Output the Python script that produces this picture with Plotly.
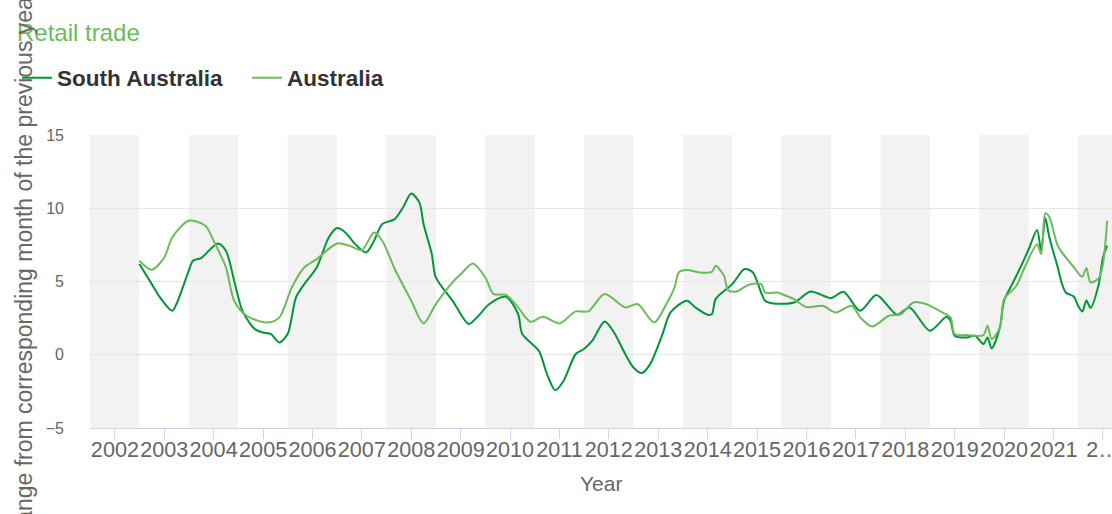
import plotly.graph_objects as go

# ---------------- data ----------------
sa_dates = ["2002-07", "2002-10", "2002-12", "2003-03", "2003-04", "2003-07", "2003-08", "2003-10",
            "2004-02", "2004-04", "2004-06", "2004-08", "2004-11", "2005-01", "2005-03", "2005-05",
            "2005-07", "2005-09", "2005-11", "2006-02", "2006-05", "2006-07", "2006-09", "2006-11",
            "2007-02", "2007-04", "2007-06", "2007-09", "2007-11", "2008-01", "2008-03", "2008-04",
            "2008-06", "2008-07", "2008-11", "2009-03", "2009-05", "2009-08", "2009-12", "2010-03",
            "2010-04", "2010-08", "2010-10", "2010-12", "2011-02", "2011-05", "2011-07", "2011-09",
            "2011-12", "2012-02", "2012-05", "2012-07", "2012-09", "2012-11", "2013-02", "2013-04",
            "2013-08", "2013-10", "2014-01", "2014-02", "2014-03", "2014-07", "2014-10", "2014-12",
            "2015-03", "2015-05", "2015-10", "2016-02", "2016-07", "2016-10", "2017-02", "2017-06",
            "2017-11", "2018-02", "2018-07", "2018-11", "2018-12", "2019-01", "2019-04", "2019-06",
            "2019-08", "2019-09", "2019-10", "2019-12", "2020-01", "2020-03", "2020-05", "2020-07",
            "2020-09", "2020-10", "2020-11", "2020-12", "2021-02", "2021-03", "2021-04", "2021-06",
            "2021-07", "2021-08", "2021-09", "2021-10", "2021-12", "2022-01", "2022-02"]
sa_values = [6.19, 4.82, 3.91, 3.0, 3.46, 5.73, 6.42, 6.6,
             7.6, 7.1, 5.05, 3.0, 1.75, 1.52, 1.41, 0.84,
             1.41, 3.91, 4.82, 5.96, 8.0, 8.65, 8.35, 7.67,
             6.98, 7.78, 8.92, 9.26, 10.05, 11.0, 10.4, 8.92,
             6.87, 5.28, 3.69, 2.1, 2.55, 3.46, 3.96, 2.78,
             1.41, 0.27, -1.32, -2.42, -1.77, 0.05, 0.39, 0.96,
             2.27, 1.64, 0.05, -0.87, -1.25, -0.64, 1.41, 2.89,
             3.69, 3.23, 2.73, 2.78, 3.8, 4.82, 5.85, 5.62,
             3.69, 3.5, 3.57, 4.32, 3.87, 4.3, 3.0, 4.07,
             2.73, 3.23, 1.64, 2.59, 2.32, 1.3, 1.18, 1.3,
             0.73, 1.18, 0.43, 1.86, 3.69, 4.82, 5.96, 7.2,
             8.51, 7.1, 9.33, 8.0, 5.96, 4.94, 4.25, 3.96,
             3.34, 2.95, 3.7, 3.2, 4.82, 6.64, 7.44]

au_dates = ["2002-07", "2002-10", "2003-01", "2003-03", "2003-07", "2003-11", "2004-01", "2004-04",
            "2004-06", "2004-09", "2005-02", "2005-05", "2005-08", "2005-11", "2006-02", "2006-07",
            "2006-10", "2007-01", "2007-04", "2007-06", "2007-09", "2008-01", "2008-04", "2008-07",
            "2008-11", "2009-01", "2009-04", "2009-07", "2009-09", "2009-12", "2010-03", "2010-06",
            "2010-09", "2011-01", "2011-05", "2011-08", "2011-12", "2012-05", "2012-08", "2012-12",
            "2013-03", "2013-05", "2013-06", "2013-08", "2013-11", "2014-02", "2014-03", "2014-05",
            "2014-06", "2014-08", "2014-11", "2015-02", "2015-03", "2015-06", "2015-08", "2015-10",
            "2016-01", "2016-05", "2016-08", "2016-12", "2017-02", "2017-05", "2017-09", "2017-12",
            "2018-03", "2018-06", "2018-10", "2018-12", "2019-01", "2019-04", "2019-08", "2019-09",
            "2019-10", "2019-12", "2020-01", "2020-04", "2020-06", "2020-09", "2020-10", "2020-11",
            "2020-12", "2021-02", "2021-04", "2021-06", "2021-08", "2021-09", "2021-10", "2021-12",
            "2022-01", "2022-02"]
au_values = [6.42, 5.8, 6.64, 8.0, 9.15, 8.81, 7.78, 5.96,
             3.69, 2.66, 2.2, 2.55, 4.6, 5.96, 6.53, 7.6,
             7.44, 7.15, 8.35, 7.78, 5.85, 3.69, 2.14, 3.46,
             4.94, 5.5, 6.23, 5.28, 4.14, 4.09, 3.23, 2.25,
             2.59, 2.14, 2.96, 2.96, 4.14, 3.23, 3.46, 2.2,
             3.46, 4.6, 5.62, 5.78, 5.62, 5.65, 6.08, 5.39,
             4.41, 4.32, 4.78, 4.82, 4.25, 4.25, 4.03, 3.8,
             3.25, 3.34, 2.89, 3.34, 2.55, 1.93, 2.66, 2.78,
             3.57, 3.46, 2.89, 2.55, 1.41, 1.34, 1.34, 1.98,
             1.07, 1.86, 3.8, 4.71, 5.96, 7.55, 6.87, 9.65,
             9.4, 7.44, 6.64, 5.96, 5.32, 5.92, 4.94, 5.23,
             6.19, 9.15]

tick_years = list(range(2002, 2023))
tick_labels = [str(y) for y in range(2002, 2022)] + ["2\u2026"]
y_ticks = [-5, 0, 5, 10, 15]

# ---------------- style ----------------
DARK = "#009639"
LIGHT = "#6cbb5a"
FONT = "Liberation Sans, Arial, sans-serif"

fig = go.Figure()
fig.add_trace(go.Scatter(x=sa_dates, y=sa_values, name="South Australia", mode="lines",
                         line=dict(color=DARK, width=2, shape="spline", smoothing=0.8)))
fig.add_trace(go.Scatter(x=au_dates, y=au_values, name="Australia", mode="lines",
                         line=dict(color=LIGHT, width=2, shape="spline", smoothing=0.8)))

# alternating year bands
shapes = []
for y in tick_years:
    if y % 2 == 0:
        shapes.append(dict(type="rect", xref="x", yref="paper", layer="below",
                           x0=f"{y-1}-07-01", x1=f"{y}-07-01", y0=0, y1=1,
                           fillcolor="#f2f2f2", line=dict(width=0)))

fig.update_layout(
    width=1112, height=514,
    margin=dict(l=90, r=0, t=135, b=86),
    paper_bgcolor="white", plot_bgcolor="white",
    font=dict(family=FONT, color="#666666"),
    shapes=shapes,
    title=dict(text="Retail trade", x=17/1112, xanchor="left", xref="container",
               y=1-33/514, yanchor="middle", yref="container",
               font=dict(size=24, color=LIGHT, family=FONT)),
    legend=dict(orientation="h", xref="container", yref="container",
                x=17/1112, xanchor="left", y=1-78/514, yanchor="middle",
                font=dict(size=22.5, color="#333333", family=FONT, weight="bold"),
                entrywidth=185, bgcolor="rgba(0,0,0,0)"),
    xaxis=dict(type="date", range=["2001-07-01", "2022-03-09"], automargin=False,
               tickvals=[f"{y}-01-01" for y in tick_years], ticktext=tick_labels,
               tickangle=0, ticks="outside", ticklen=10, tickcolor="#ccd6eb",
               tickfont=dict(size=21.6, color="#666666"), ticklabeloverflow="allow",
               ticklabelstandoff=-8,
               showline=True, linecolor="#ccd6eb", linewidth=1,
               showgrid=False, zeroline=False),
    yaxis=dict(range=[-5, 15], tickvals=y_ticks, ticks="", ticklabelstandoff=25,
               automargin=False,
               tickfont=dict(size=16, color="#666666"),
               showgrid=True, gridcolor="#e6e6e6", gridwidth=1, zeroline=False,
               showline=False),
    annotations=[
        dict(text="% change from corresponding month of the previous year", textangle=-90,
             xref="paper", yref="paper", x=(24-90)/1022, y=(428-282)/293,
             xanchor="center", yanchor="middle", showarrow=False,
             font=dict(size=23, color="#666666", family=FONT)),
        dict(text="Year", xref="paper", yref="paper", x=0.5, y=(428-483)/293,
             xanchor="center", yanchor="middle", showarrow=False,
             font=dict(size=21, color="#666666", family=FONT)),
    ],
)

fig.write_html("out.html", config={"displayModeBar": False},
               post_script="document.body.style.margin='0';document.body.style.padding='0';")
